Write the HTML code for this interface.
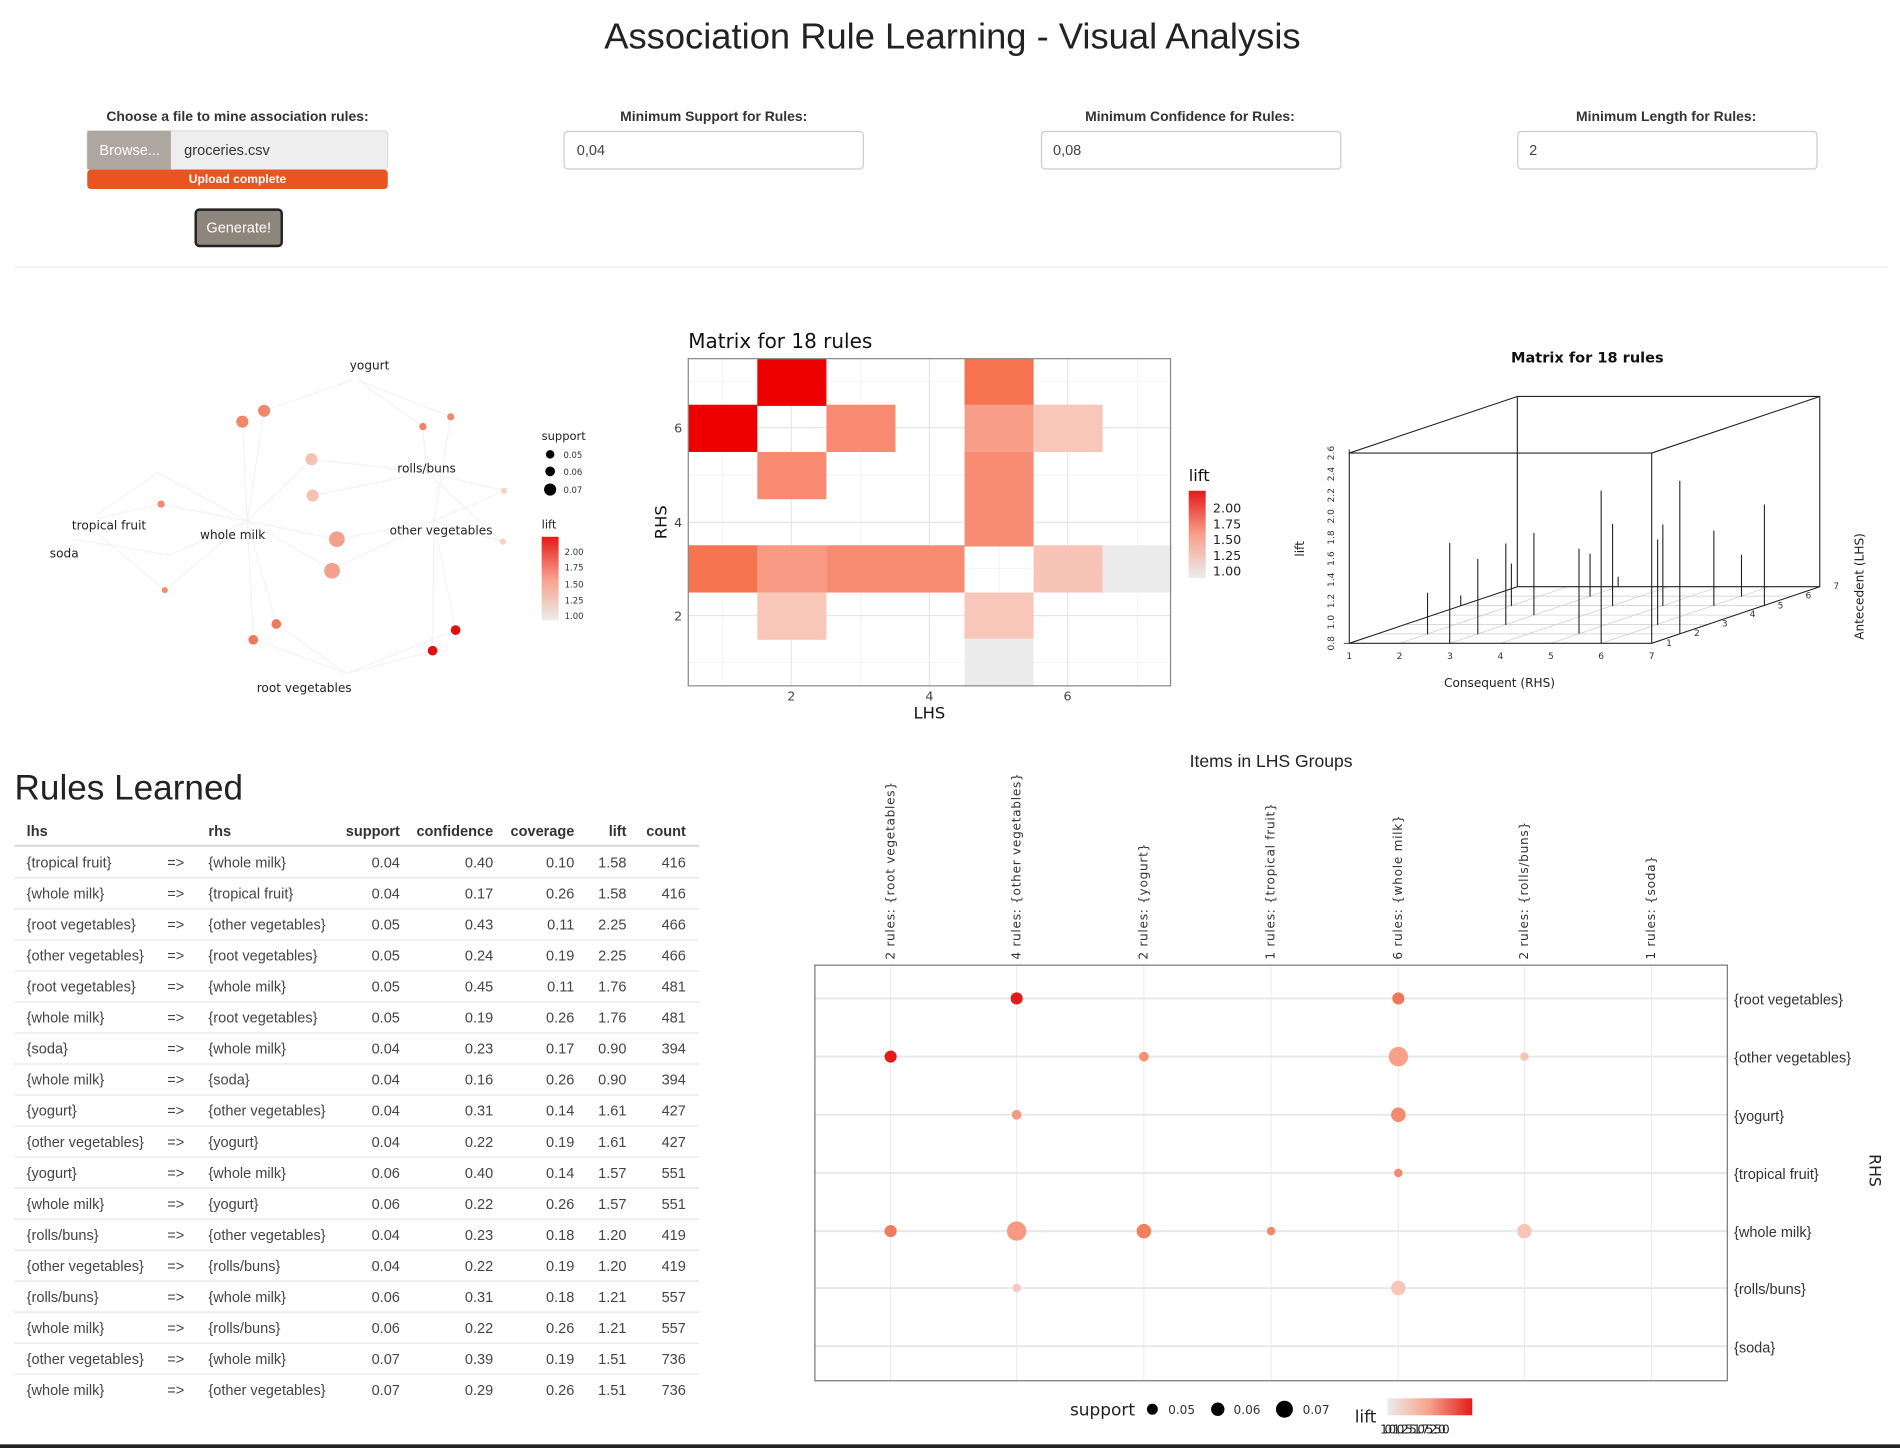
<!DOCTYPE html>
<html><head><meta charset="utf-8"><style>
html,body{margin:0;padding:0;background:#fff;width:1900px;height:1448px;overflow:hidden}
svg{display:block}
text{font-family:"Liberation Sans",sans-serif}
.dj{font-family:"DejaVu Sans",sans-serif}
</style></head><body>
<svg width="1900" height="1448" viewBox="0 0 1568 1195" xmlns="http://www.w3.org/2000/svg">
<rect width="1568" height="1195" fill="#fff"/>
<!-- header -->
<text x="786" y="40" font-size="30" text-anchor="middle" fill="#222">Association Rule Learning - Visual Analysis</text>
<g font-size="11.5" font-weight="bold" text-anchor="middle" fill="#333">
<text x="196" y="100">Choose a file to mine association rules:</text>
<text x="589" y="100">Minimum Support for Rules:</text>
<text x="982" y="100">Minimum Confidence for Rules:</text>
<text x="1375" y="100">Minimum Length for Rules:</text>
</g>
<rect x="72" y="108" width="248" height="32" rx="3" fill="#eeeeee" stroke="#ddd"/>
<rect x="72" y="108" width="69" height="32" fill="#aea79f"/>
<text x="107" y="128" font-size="12" fill="#fff" text-anchor="middle">Browse...</text>
<text x="152" y="128" font-size="12" fill="#333">groceries.csv</text>
<rect x="72" y="140" width="248" height="16" rx="3" fill="#e95420"/>
<text x="196" y="151" font-size="10" fill="#fff" text-anchor="middle" font-weight="bold">Upload complete</text>
<rect x="161.5" y="173" width="71" height="30" rx="3" fill="#8e867d" stroke="#222" stroke-width="2"/>
<text x="197" y="192" font-size="12" fill="#fff" text-anchor="middle">Generate!</text>
<g fill="#fff" stroke="#ccc"><rect x="465.5" y="108.5" width="247" height="31" rx="3"/><rect x="859.5" y="108.5" width="247" height="31" rx="3"/><rect x="1252.5" y="108.5" width="247" height="31" rx="3"/></g>
<g font-size="12" fill="#444"><text x="476" y="128">0,04</text><text x="869" y="128">0,08</text><text x="1262" y="128">2</text></g>
<line x1="12" y1="220.5" x2="1558" y2="220.5" stroke="#eee"/>

<!-- network -->
<g stroke="#f3f3f3" stroke-width="1" fill="none">
<path d="M290 314L218 339M296 314L349 352M296 314L372 344M200 348L204 430M218 339L204 430M349 352L352 390M372 344L358 430M257 379L204 430M258 409L352 390M352 390L416 405M352 390L257 379M204 430L278 445M204 430L274 470M278 445L358 430M274 470L358 430M358 430L415 447M358 430L416 405M352 390L415 447M204 430L133 416M204 430L140 458M204 430L136 487M130 390L204 430M130 390L80 425M133 416L80 428M136 487L80 440M140 458L60 445M204 430L209 527M204 430L228 515M209 527L286 556M228 515L286 556M286 556L357 537M286 556L376 520M357 537L358 430M376 520L358 430"/>
</g>
<g>
<circle cx="200" cy="348" r="5" fill="#f0866c"/><circle cx="218" cy="339" r="5" fill="#f0866c"/>
<circle cx="349" cy="352" r="3" fill="#f08268"/><circle cx="372" cy="344" r="3" fill="#f08a70"/>
<circle cx="257" cy="379" r="5" fill="#f7c0b4"/><circle cx="258" cy="409" r="5" fill="#f7c0b4"/>
<circle cx="133" cy="416" r="3" fill="#f08a70"/><circle cx="278" cy="445" r="6.5" fill="#f4a08c"/>
<circle cx="274" cy="471" r="6.5" fill="#f4a08c"/><circle cx="136" cy="487" r="2.5" fill="#f08a70"/>
<circle cx="209" cy="528" r="4" fill="#ec7a60"/><circle cx="228" cy="515" r="4" fill="#ec7a60"/>
<circle cx="376" cy="520" r="4" fill="#e01010"/><circle cx="357" cy="537" r="4" fill="#e01010"/>
<circle cx="416" cy="405" r="2.5" fill="#f8d0c6"/><circle cx="415" cy="447" r="2.5" fill="#f8d0c6"/>
</g>
<g font-size="10" fill="#222" class="dj">
<text x="305" y="305" text-anchor="middle" class="dj">yogurt</text>
<text x="352" y="390" text-anchor="middle" class="dj">rolls/buns</text>
<text x="90" y="437" text-anchor="middle" class="dj">tropical fruit</text>
<text x="192" y="445" text-anchor="middle" class="dj">whole milk</text>
<text x="364" y="441" text-anchor="middle" class="dj">other vegetables</text>
<text x="53" y="460" text-anchor="middle" class="dj">soda</text>
<text x="251" y="571" text-anchor="middle" class="dj">root vegetables</text>
</g>
<text x="447" y="363" font-size="9.5" class="dj" fill="#222">support</text>
<circle cx="454" cy="375" r="3.5"/><circle cx="454" cy="389" r="4"/><circle cx="454" cy="404" r="5"/>
<g font-size="7" class="dj" fill="#333"><text x="465" y="378" class="dj">0.05</text><text x="465" y="392" class="dj">0.06</text><text x="465" y="407" class="dj">0.07</text></g>
<text x="447" y="436" font-size="9.5" class="dj" fill="#222">lift</text>
<defs>
<linearGradient id="gv" x1="0" y1="1" x2="0" y2="0"><stop offset="0" stop-color="#ececec"/><stop offset="0.5" stop-color="#f7a08a"/><stop offset="1" stop-color="#e41a1a"/></linearGradient>
<linearGradient id="gh" x1="0" y1="0" x2="1" y2="0"><stop offset="0" stop-color="#ececec"/><stop offset="0.5" stop-color="#f7a08a"/><stop offset="1" stop-color="#e41a1a"/></linearGradient>
</defs>
<rect x="447" y="443" width="14" height="69" fill="url(#gv)"/>
<g font-size="7" class="dj" fill="#333"><text x="466" y="458" class="dj">2.00</text><text x="466" y="471" class="dj">1.75</text><text x="466" y="485" class="dj">1.50</text><text x="466" y="498" class="dj">1.25</text><text x="466" y="511" class="dj">1.00</text></g>

<!-- matrix heatmap -->
<text x="568" y="287" font-size="16.5" class="dj" fill="#111">Matrix for 18 rules</text>
<rect x="568" y="296" width="398" height="270" fill="#fff"/>
<g stroke="#f0f0f0" stroke-width="0.6"><path d="M596.5 296V566M710.5 296V566M824.5 296V566M938.5 296V566M568 546.7H966M568 469.3H966M568 392H966M568 314.6H966"/></g>
<g stroke="#e6e6e6" stroke-width="1"><path d="M653 296V566M767 296V566M881 296V566M568 508H966M568 431H966M568 353H966"/></g>
<g>
<rect x="625" y="296" width="57" height="39" fill="#ee0000"/><rect x="796" y="296" width="57" height="39" fill="#f6734f"/>
<rect x="568" y="334" width="57" height="39" fill="#ee0000"/><rect x="682" y="334" width="57" height="39" fill="#f78a70"/><rect x="796" y="334" width="57" height="39" fill="#f89e88"/><rect x="853" y="334" width="57" height="39" fill="#f9c6ba"/>
<rect x="625" y="373" width="57" height="39" fill="#f78a70"/><rect x="796" y="373" width="57" height="78" fill="#f78c72"/>
<rect x="568" y="450" width="57" height="39" fill="#f6744f"/><rect x="625" y="450" width="57" height="39" fill="#f89a84"/><rect x="682" y="450" width="114" height="39" fill="#f78c72"/><rect x="853" y="450" width="57" height="39" fill="#f9c4b8"/><rect x="910" y="450" width="57" height="39" fill="#ececec"/>
<rect x="625" y="489" width="57" height="39" fill="#f9c6ba"/><rect x="796" y="489" width="57" height="39" fill="#f9c6ba"/>
<rect x="796" y="527" width="57" height="39" fill="#ececec"/>
</g>
<rect x="568" y="296" width="398" height="270" fill="none" stroke="#888"/>
<g font-size="10.5" class="dj" fill="#444" text-anchor="end"><text x="563" y="512" class="dj">2</text><text x="563" y="435" class="dj">4</text><text x="563" y="357" class="dj">6</text></g>
<g font-size="10.5" class="dj" fill="#444" text-anchor="middle"><text x="653" y="578" class="dj">2</text><text x="767" y="578" class="dj">4</text><text x="881" y="578" class="dj">6</text></g>
<text x="767" y="593" font-size="13.5" class="dj" text-anchor="middle" fill="#111">LHS</text>
<text transform="translate(550,431) rotate(-90)" font-size="13.5" class="dj" text-anchor="middle" fill="#111">RHS</text>
<text x="981" y="397" font-size="13.5" class="dj" fill="#111">lift</text>
<rect x="981" y="405" width="14" height="72" fill="url(#gv)"/>
<g font-size="10.5" class="dj" fill="#222"><text x="1001" y="423" class="dj">2.00</text><text x="1001" y="436" class="dj">1.75</text><text x="1001" y="449" class="dj">1.50</text><text x="1001" y="462" class="dj">1.25</text><text x="1001" y="475" class="dj">1.00</text></g>

<!-- 3D -->
<text x="1310" y="299" font-size="12" font-weight="bold" class="dj" text-anchor="middle" fill="#111">Matrix for 18 rules</text>
<g stroke="#ccc" stroke-width="0.6">
<path d="M1155 530.9L1293.7 484.2M1196.7 530.9L1335.4 484.2M1238.2 530.9L1376.9 484.2M1279.9 530.9L1418.6 484.2M1321.4 530.9L1460.1 484.2"/>
<path d="M1136.6 523.1H1386.2M1159.7 515.3H1409.3M1182.8 507.6H1432.4M1205.9 499.8H1455.5M1229.0 492.0H1478.6"/>
</g>
<g stroke="#222" stroke-width="0.9" fill="none">
<rect x="1113.5" y="373.9" width="249.6" height="157"/>
<path d="M1252.2 327.2H1501.8V484.2H1252.2ZM1113.5 373.9L1252.2 327.2M1363.1 373.9L1501.8 327.2M1113.5 530.9L1252.2 484.2M1363.1 530.9L1501.8 484.2"/>
</g>
<g stroke="#222" stroke-width="0.9">
<path d="M1178.1 523.5V489.2M1196.4 530.9V448M1205.5 499.6V491.4M1219.6 523.5V461.2M1242.7 515.8V448.5M1247.3 500.2V465M1265.9 507.8V439.8M1303.1 523V452.9M1312.2 492.5V457M1321.4 530.9V404.9M1330.8 500.2V432.3M1335.4 484.5V476M1368 515.8V445.2M1372.3 500.2V432.9M1386.3 523V396.7M1414.4 500.2V437.8M1437.2 492.5V457.9M1456.1 500.2V416.4"/>
</g>
<g stroke="#222" stroke-width="0.8"><path d="M1113.5 374v-3M1109 530.9h4"/></g>
<g font-size="7.5" class="dj" fill="#333">
<g text-anchor="middle">
<text transform="translate(1101,530.9) rotate(-90)" class="dj">0.8</text><text transform="translate(1101,513.4) rotate(-90)" class="dj">1.0</text><text transform="translate(1101,496) rotate(-90)" class="dj">1.2</text><text transform="translate(1101,478.5) rotate(-90)" class="dj">1.4</text><text transform="translate(1101,461) rotate(-90)" class="dj">1.6</text><text transform="translate(1101,443.6) rotate(-90)" class="dj">1.8</text><text transform="translate(1101,426.1) rotate(-90)" class="dj">2.0</text><text transform="translate(1101,408.7) rotate(-90)" class="dj">2.2</text><text transform="translate(1101,391.2) rotate(-90)" class="dj">2.4</text><text transform="translate(1101,373.9) rotate(-90)" class="dj">2.6</text>
<text x="1113.5" y="544" class="dj">1</text><text x="1155" y="544" class="dj">2</text><text x="1196.7" y="544" class="dj">3</text><text x="1238.2" y="544" class="dj">4</text><text x="1279.9" y="544" class="dj">5</text><text x="1321.4" y="544" class="dj">6</text><text x="1363.1" y="544" class="dj">7</text>
</g>
<text x="1375" y="533" class="dj">1</text><text x="1398" y="525" class="dj">2</text><text x="1421" y="517" class="dj">3</text><text x="1444" y="509" class="dj">4</text><text x="1467" y="502" class="dj">5</text><text x="1490" y="494" class="dj">6</text><text x="1513" y="486" class="dj">7</text>
</g>
<text transform="translate(1076,453) rotate(-90)" font-size="10" class="dj" text-anchor="middle" fill="#222">lift</text>
<text x="1237.5" y="567" font-size="10" class="dj" text-anchor="middle" fill="#222">Consequent (RHS)</text>
<text transform="translate(1538,484) rotate(-90)" font-size="10" class="dj" text-anchor="middle" fill="#222">Antecedent (LHS)</text>

<!-- table -->
<text x="12" y="660" font-size="29" fill="#222">Rules Learned</text>
<g font-size="12" fill="#333" font-weight="bold"><text x="22" y="690">lhs</text><text x="172" y="690">rhs</text>
<g text-anchor="end"><text x="330" y="690">support</text><text x="407" y="690">confidence</text><text x="474" y="690">coverage</text><text x="517" y="690">lift</text><text x="566" y="690">count</text></g></g>
<line x1="12" y1="698" x2="577" y2="698" stroke="#ddd" stroke-width="2"/>
<g stroke="#e6e6e6"><path d="M12 724.5H577M12 750.1H577M12 775.7H577M12 801.3H577M12 826.9H577M12 852.5H577M12 878.1H577M12 903.7H577M12 929.3H577M12 954.9H577M12 980.5H577M12 1006.1H577M12 1031.7H577M12 1057.3H577M12 1082.9H577M12 1108.5H577M12 1134.1H577"/></g>
<g font-size="12" fill="#444">
<g><text x="22" y="716">{tropical fruit}</text><text x="22" y="741.6">{whole milk}</text><text x="22" y="767.2">{root vegetables}</text><text x="22" y="792.8">{other vegetables}</text><text x="22" y="818.4">{root vegetables}</text><text x="22" y="844">{whole milk}</text><text x="22" y="869.6">{soda}</text><text x="22" y="895.2">{whole milk}</text><text x="22" y="920.8">{yogurt}</text><text x="22" y="946.4">{other vegetables}</text><text x="22" y="972">{yogurt}</text><text x="22" y="997.6">{whole milk}</text><text x="22" y="1023.2">{rolls/buns}</text><text x="22" y="1048.8">{other vegetables}</text><text x="22" y="1074.4">{rolls/buns}</text><text x="22" y="1100">{whole milk}</text><text x="22" y="1125.6">{other vegetables}</text><text x="22" y="1151.2">{whole milk}</text></g>
<g><text x="138" y="716">=&gt;</text><text x="138" y="741.6">=&gt;</text><text x="138" y="767.2">=&gt;</text><text x="138" y="792.8">=&gt;</text><text x="138" y="818.4">=&gt;</text><text x="138" y="844">=&gt;</text><text x="138" y="869.6">=&gt;</text><text x="138" y="895.2">=&gt;</text><text x="138" y="920.8">=&gt;</text><text x="138" y="946.4">=&gt;</text><text x="138" y="972">=&gt;</text><text x="138" y="997.6">=&gt;</text><text x="138" y="1023.2">=&gt;</text><text x="138" y="1048.8">=&gt;</text><text x="138" y="1074.4">=&gt;</text><text x="138" y="1100">=&gt;</text><text x="138" y="1125.6">=&gt;</text><text x="138" y="1151.2">=&gt;</text></g>
<g><text x="172" y="716">{whole milk}</text><text x="172" y="741.6">{tropical fruit}</text><text x="172" y="767.2">{other vegetables}</text><text x="172" y="792.8">{root vegetables}</text><text x="172" y="818.4">{whole milk}</text><text x="172" y="844">{root vegetables}</text><text x="172" y="869.6">{whole milk}</text><text x="172" y="895.2">{soda}</text><text x="172" y="920.8">{other vegetables}</text><text x="172" y="946.4">{yogurt}</text><text x="172" y="972">{whole milk}</text><text x="172" y="997.6">{yogurt}</text><text x="172" y="1023.2">{other vegetables}</text><text x="172" y="1048.8">{rolls/buns}</text><text x="172" y="1074.4">{whole milk}</text><text x="172" y="1100">{rolls/buns}</text><text x="172" y="1125.6">{whole milk}</text><text x="172" y="1151.2">{other vegetables}</text></g>
<g text-anchor="end">
<text x="330" y="716">0.04</text><text x="330" y="741.6">0.04</text><text x="330" y="767.2">0.05</text><text x="330" y="792.8">0.05</text><text x="330" y="818.4">0.05</text><text x="330" y="844">0.05</text><text x="330" y="869.6">0.04</text><text x="330" y="895.2">0.04</text><text x="330" y="920.8">0.04</text><text x="330" y="946.4">0.04</text><text x="330" y="972">0.06</text><text x="330" y="997.6">0.06</text><text x="330" y="1023.2">0.04</text><text x="330" y="1048.8">0.04</text><text x="330" y="1074.4">0.06</text><text x="330" y="1100">0.06</text><text x="330" y="1125.6">0.07</text><text x="330" y="1151.2">0.07</text>
<text x="407" y="716">0.40</text><text x="407" y="741.6">0.17</text><text x="407" y="767.2">0.43</text><text x="407" y="792.8">0.24</text><text x="407" y="818.4">0.45</text><text x="407" y="844">0.19</text><text x="407" y="869.6">0.23</text><text x="407" y="895.2">0.16</text><text x="407" y="920.8">0.31</text><text x="407" y="946.4">0.22</text><text x="407" y="972">0.40</text><text x="407" y="997.6">0.22</text><text x="407" y="1023.2">0.23</text><text x="407" y="1048.8">0.22</text><text x="407" y="1074.4">0.31</text><text x="407" y="1100">0.22</text><text x="407" y="1125.6">0.39</text><text x="407" y="1151.2">0.29</text>
<text x="474" y="716">0.10</text><text x="474" y="741.6">0.26</text><text x="474" y="767.2">0.11</text><text x="474" y="792.8">0.19</text><text x="474" y="818.4">0.11</text><text x="474" y="844">0.26</text><text x="474" y="869.6">0.17</text><text x="474" y="895.2">0.26</text><text x="474" y="920.8">0.14</text><text x="474" y="946.4">0.19</text><text x="474" y="972">0.14</text><text x="474" y="997.6">0.26</text><text x="474" y="1023.2">0.18</text><text x="474" y="1048.8">0.19</text><text x="474" y="1074.4">0.18</text><text x="474" y="1100">0.26</text><text x="474" y="1125.6">0.19</text><text x="474" y="1151.2">0.26</text>
<text x="517" y="716">1.58</text><text x="517" y="741.6">1.58</text><text x="517" y="767.2">2.25</text><text x="517" y="792.8">2.25</text><text x="517" y="818.4">1.76</text><text x="517" y="844">1.76</text><text x="517" y="869.6">0.90</text><text x="517" y="895.2">0.90</text><text x="517" y="920.8">1.61</text><text x="517" y="946.4">1.61</text><text x="517" y="972">1.57</text><text x="517" y="997.6">1.57</text><text x="517" y="1023.2">1.20</text><text x="517" y="1048.8">1.20</text><text x="517" y="1074.4">1.21</text><text x="517" y="1100">1.21</text><text x="517" y="1125.6">1.51</text><text x="517" y="1151.2">1.51</text>
<text x="566" y="716">416</text><text x="566" y="741.6">416</text><text x="566" y="767.2">466</text><text x="566" y="792.8">466</text><text x="566" y="818.4">481</text><text x="566" y="844">481</text><text x="566" y="869.6">394</text><text x="566" y="895.2">394</text><text x="566" y="920.8">427</text><text x="566" y="946.4">427</text><text x="566" y="972">551</text><text x="566" y="997.6">551</text><text x="566" y="1023.2">419</text><text x="566" y="1048.8">419</text><text x="566" y="1074.4">557</text><text x="566" y="1100">557</text><text x="566" y="1125.6">736</text><text x="566" y="1151.2">736</text>
</g></g>

<!-- grouped matrix -->
<text x="1049" y="633" font-size="14.5" text-anchor="middle" fill="#222">Items in LHS Groups</text>
<g stroke="#ebebeb" stroke-width="0.8"><path d="M735 796V1139M839 796V1139M944 796V1139M1049 796V1139M1154 796V1139M1258 796V1139M1363 796V1139"/></g>
<g stroke="#e8e8e8" stroke-width="1.6"><path d="M672 824H1426M672 872H1426M672 920H1426M672 968H1426M672 1016H1426M672 1063H1426M672 1111H1426"/></g>
<rect x="672.5" y="796.5" width="753" height="343" fill="none" stroke="#777"/>
<g font-size="10" class="dj" fill="#333" letter-spacing="0.6">
<text transform="translate(738,792) rotate(-90)" class="dj">2 rules: {root vegetables}</text>
<text transform="translate(842,792) rotate(-90)" class="dj">4 rules: {other vegetables}</text>
<text transform="translate(947,792) rotate(-90)" class="dj">2 rules: {yogurt}</text>
<text transform="translate(1052,792) rotate(-90)" class="dj">1 rules: {tropical fruit}</text>
<text transform="translate(1157,792) rotate(-90)" class="dj">6 rules: {whole milk}</text>
<text transform="translate(1261,792) rotate(-90)" class="dj">2 rules: {rolls/buns}</text>
<text transform="translate(1366,792) rotate(-90)" class="dj">1 rules: {soda}</text>
</g>
<g font-size="12" fill="#333">
<text x="1431" y="829">{root vegetables}</text><text x="1431" y="877">{other vegetables}</text><text x="1431" y="925">{yogurt}</text><text x="1431" y="973">{tropical fruit}</text><text x="1431" y="1021">{whole milk}</text><text x="1431" y="1068">{rolls/buns}</text><text x="1431" y="1116">{soda}</text>
</g>
<text transform="translate(1543,966) rotate(90)" font-size="13" class="dj" text-anchor="middle" fill="#222">RHS</text>
<g>
<circle cx="839" cy="824" r="5" fill="#e41a1a"/><circle cx="1154" cy="824" r="5" fill="#f0775a"/>
<circle cx="735" cy="872" r="5" fill="#e41a1a"/><circle cx="944" cy="872" r="4" fill="#f59070"/><circle cx="1154" cy="872" r="8" fill="#f7a08a"/><circle cx="1258" cy="872" r="3.5" fill="#f8c2b5"/>
<circle cx="839" cy="920" r="4" fill="#f59a80"/><circle cx="1154" cy="920" r="6" fill="#f48a70"/>
<circle cx="1154" cy="968" r="3.5" fill="#f28a70"/>
<circle cx="735" cy="1016" r="5" fill="#f07a5c"/><circle cx="839" cy="1016" r="8" fill="#f59a80"/><circle cx="944" cy="1016" r="6" fill="#f08060"/><circle cx="1049" cy="1016" r="3.5" fill="#f08a6a"/><circle cx="1258" cy="1016" r="6" fill="#f8c5b8"/>
<circle cx="839" cy="1063" r="3.5" fill="#f8c8bc"/><circle cx="1154" cy="1063" r="6" fill="#f8c5b8"/>
</g>
<text x="883" y="1168" font-size="14" class="dj" fill="#222">support</text>
<circle cx="951" cy="1163" r="4.5"/><circle cx="1005" cy="1163" r="5.5"/><circle cx="1060" cy="1163" r="7"/>
<g font-size="10" class="dj" fill="#333"><text x="964" y="1167" class="dj">0.05</text><text x="1018" y="1167" class="dj">0.06</text><text x="1075" y="1167" class="dj">0.07</text></g>
<text x="1118" y="1174" font-size="14" class="dj" fill="#222">lift</text>
<rect x="1145" y="1154" width="70" height="14" fill="url(#gh)"/>
<text x="1139" y="1183" font-size="10" class="dj" fill="#222" letter-spacing="-3">1.0010.2551.0752.500</text>
<rect x="0" y="1192" width="1568" height="3" fill="#222"/>
</svg>
</body></html>
